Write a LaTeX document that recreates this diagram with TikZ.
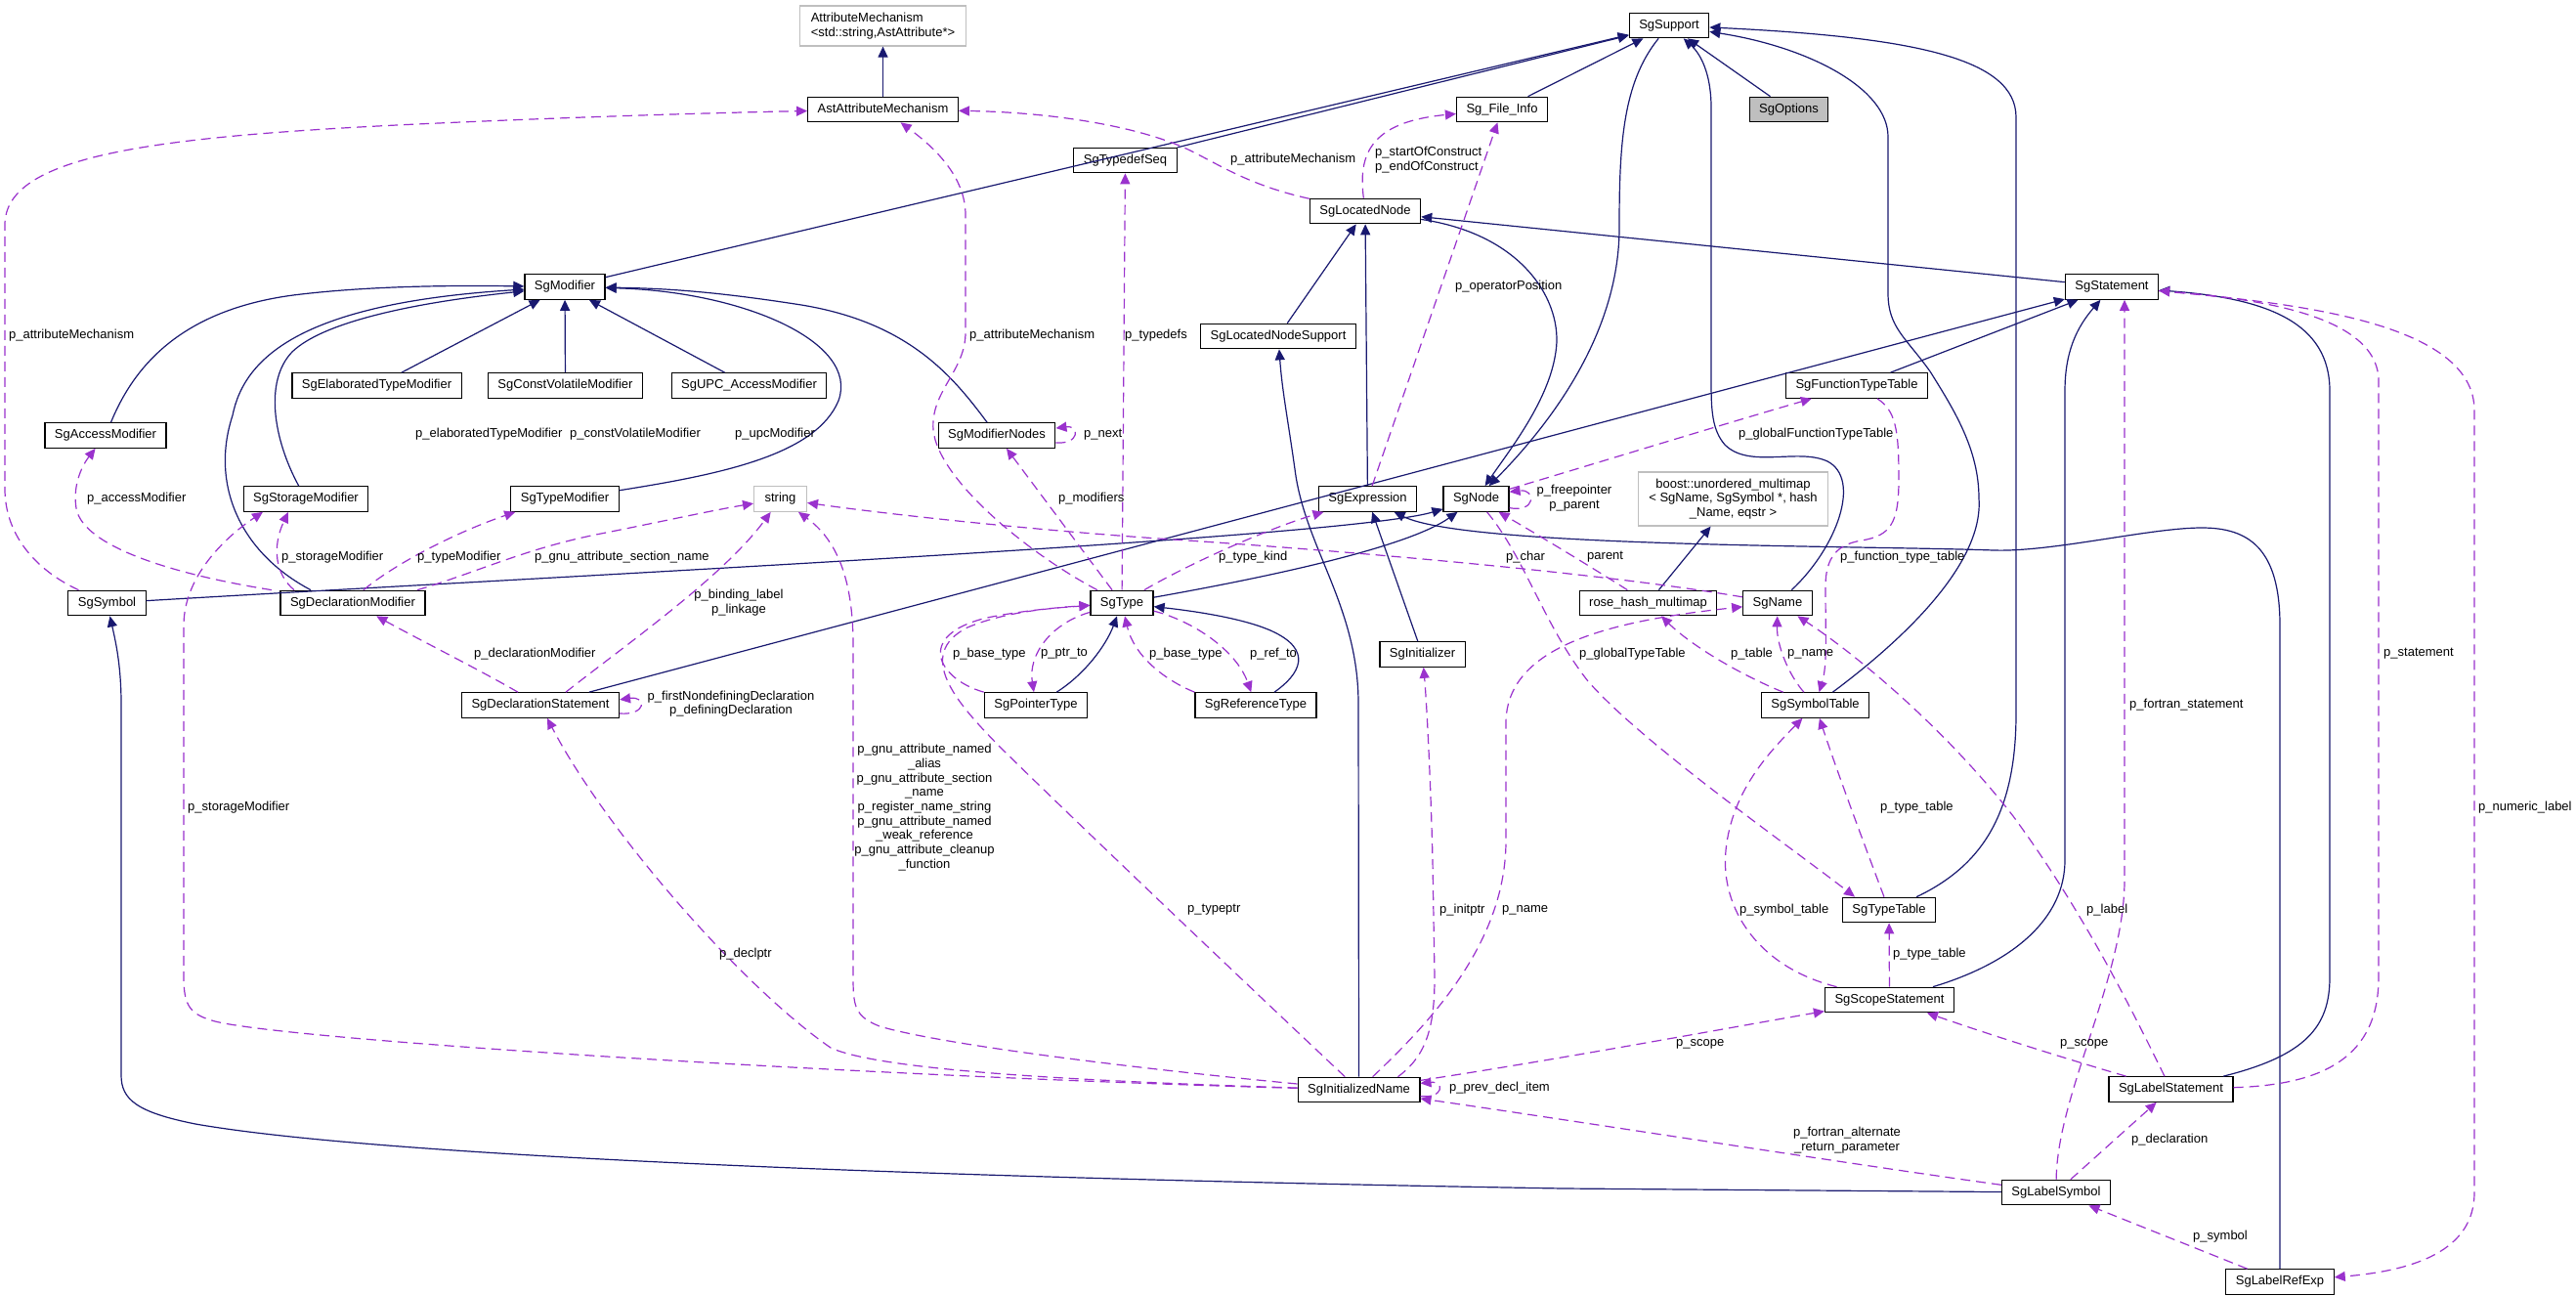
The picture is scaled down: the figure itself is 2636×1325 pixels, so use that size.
\documentclass[tikz,border=0pt]{standalone}
\usepackage{fontspec}
\setmainfont{Liberation Sans}
\usetikzlibrary{arrows.meta}

\definecolor{navy}{HTML}{191970}
\definecolor{orchid}{HTML}{9A32CD}
\definecolor{lightgrey}{HTML}{BFBFBF}
\newcommand{\graphfont}{\fontsize{13}{14.7}\selectfont}

\tikzset{
  cls/.style={draw=black, line width=1.2pt, fill=white, inner xsep=10pt, inner ysep=0pt,
    minimum height=25.5pt, text height=9.5pt, text depth=2.8pt, font=\graphfont},
  ext/.style={draw=lightgrey, line width=1.2pt, fill=white, inner xsep=11pt, inner ysep=4pt, font=\graphfont},
  isa/.style={draw=navy, line width=1.2pt, -{Triangle[length=11pt,width=10pt]}},
  uses/.style={draw=orchid, line width=1.2pt, dash pattern=on 10pt off 6pt, -{Triangle[length=11pt,width=10pt]}},
  lbl/.style={inner sep=0pt, anchor=west, font=\graphfont},
  mlbl/.style={inner sep=0pt, align=center, font=\graphfont},
}

\begin{document}
\begin{tikzpicture}[x=1pt, y=-1pt]

  \fill[white] (0,0) rectangle (2636,1325);
  \useasboundingbox (0,0) rectangle (2636,1325);

  %% classes
  \node[ext, align=left, minimum height=41pt] (AttrMech) at (903.5,26.5) {AttributeMechanism\\<std::string,AstAttribute*>};
  \node[cls] (AstAttrMech) at (903.5,112) {AstAttributeMechanism};
  \node[cls] (SgSupport) at (1708,26) {SgSupport};
  \node[cls] (SgFileInfo) at (1537,112) {Sg\_File\_Info};
  \node[cls, fill=lightgrey] (SgOptions) at (1830.5,112) {SgOptions};
  \node[cls] (SgTypedefSeq) at (1151.5,164) {SgTypedefSeq};
  \node[cls] (SgLocatedNode) at (1397,216) {SgLocatedNode};
  \node[cls] (SgModifier) at (578,293.5) {SgModifier};
  \node[cls] (SgStatement) at (2161,293.5) {SgStatement};
  \node[cls] (SgLocatedNodeSupport) at (1308,344) {SgLocatedNodeSupport};
  \node[cls] (SgElaboratedTypeModifier) at (385.5,394.5) {SgElaboratedTypeModifier};
  \node[cls] (SgConstVolatileModifier) at (578.5,394.5) {SgConstVolatileModifier};
  \node[cls] (SgUPCAccessModifier) at (766.5,394.5) {SgUPC\_AccessModifier};
  \node[cls] (SgFunctionTypeTable) at (1900,394.5) {SgFunctionTypeTable};
  \node[cls] (SgAccessModifier) at (108,445.5) {SgAccessModifier};
  \node[cls] (SgModifierNodes) at (1020,445.5) {SgModifierNodes};
  \node[cls] (SgStorageModifier) at (313,510.5) {SgStorageModifier};
  \node[cls] (SgTypeModifier) at (578,510.5) {SgTypeModifier};
  \node[ext, minimum height=25.5pt, inner ysep=0pt] (stdString) at (798.5,510.5) {string};
  \node[cls] (SgExpression) at (1399.5,510.5) {SgExpression};
  \node[cls] (SgNode) at (1510.5,510.5) {SgNode};
  \node[ext, align=center, minimum height=55pt] (boostMap) at (1773.5,510.5) {boost::unordered\_multimap\\< SgName, SgSymbol *, hash\\\_Name, eqstr >};
  \node[cls] (SgSymbol) at (109.5,617) {SgSymbol};
  \node[cls] (SgDeclarationModifier) at (361,617) {SgDeclarationModifier};
  \node[cls] (SgType) at (1148,617) {SgType};
  \node[cls] (roseHashMultimap) at (1686.5,617) {rose\_hash\_multimap};
  \node[cls] (SgName) at (1819,617) {SgName};
  \node[cls] (SgInitializer) at (1455.5,669.5) {SgInitializer};
  \node[cls] (SgDeclarationStatement) at (553,721.5) {SgDeclarationStatement};
  \node[cls] (SgPointerType) at (1060,721.5) {SgPointerType};
  \node[cls] (SgReferenceType) at (1285,721.5) {SgReferenceType};
  \node[cls] (SgSymbolTable) at (1857.5,721.5) {SgSymbolTable};
  \node[cls] (SgTypeTable) at (1933,931) {SgTypeTable};
  \node[cls] (SgScopeStatement) at (1933.5,1023) {SgScopeStatement};
  \node[cls] (SgInitializedName) at (1390.5,1115) {SgInitializedName};
  \node[cls] (SgLabelStatement) at (2221.5,1114.5) {SgLabelStatement};
  \node[cls] (SgLabelSymbol) at (2104,1220) {SgLabelSymbol};
  \node[cls] (SgLabelRefExp) at (2333,1311.5) {SgLabelRefExp};

  %% inheritance
  \draw[isa] (AstAttrMech) -- (AttrMech);
  \draw[isa] (SgModifier) -- (SgSupport);
  \draw[isa] (SgTypedefSeq) -- (SgSupport);
  \draw[isa] (SgFileInfo) -- (SgSupport);
  \draw[isa] (SgOptions) -- (SgSupport);
  \draw[isa] (SgSupport) .. controls (1660,85) and (1657,150) .. (1657,233) .. controls (1657,330) and (1600,420) .. (SgNode);
  \draw[isa] (SgName) .. controls (1880,560) and (1905,490) .. (1870,472) .. controls (1840,458) and (1790,480) .. (1765,455) .. controls (1752,440) and (1751,420) .. (1751,390) -- (1751,110) .. controls (1751,75) and (1740,55) .. (SgSupport);
  \draw[isa] (SgSymbolTable) .. controls (1940,660) and (2030,580) .. (2025,510) .. controls (2025,460) and (2000,420) .. (1975,380) .. controls (1950,345) and (1932,335) .. (1932,300) -- (1932,140) .. controls (1932,90) and (1850,48) .. (SgSupport);
  \draw[isa] (SgTypeTable) .. controls (2030,885) and (2063,830) .. (2063,730) -- (2063,120) .. controls (2063,60) and (1960,38) .. (SgSupport);
  \draw[isa] (SgLocatedNode) .. controls (1560,240) and (1600,310) .. (1592,360) .. controls (1585,410) and (1545,460) .. (SgNode);
  \draw[isa] (SgExpression) -- (SgLocatedNode);
  \draw[isa] (SgLocatedNodeSupport) -- (SgLocatedNode);
  \draw[isa] (SgStatement) -- (SgLocatedNode);
  \draw[isa] (SgDeclarationStatement) -- (SgStatement);
  \draw[isa] (SgFunctionTypeTable) -- (SgStatement);
  \draw[isa] (SgScopeStatement) .. controls (2060,985) and (2113,940) .. (2113,880) -- (2113,400) .. controls (2113,360) and (2125,335) .. (SgStatement);
  \draw[isa] (SgLabelStatement) .. controls (2360,1080) and (2384,1050) .. (2384,1000) -- (2384,400) .. controls (2384,330) and (2320,305) .. (SgStatement);
  \draw[isa] (SgLabelRefExp) -- (2333,640) .. controls (2333,560) and (2300,540) .. (2253,540) .. controls (2200,540) and (2100,565) .. (2040,563) .. controls (1900,558) and (1500,560) .. (SgExpression);
  \draw[isa] (SgInitializedName) -- (1390,720) .. controls (1390,620) and (1335,560) .. (1325,480) .. controls (1318,430) and (1312,400) .. (SgLocatedNodeSupport);
  \draw[isa] (SgInitializer) -- (SgExpression);
  \draw[isa] (SgType) .. controls (1300,590) and (1440,560) .. (SgNode);
  \draw[isa] (SgSymbol) .. controls (600,588) and (1380,550) .. (SgNode);
  \draw[isa] ([xshift=-43pt]SgDeclarationModifier.north) .. controls (245,565) and (215,495) .. (238,425) .. controls (250,365) and (310,310) .. (SgModifier);
  \draw[isa] (SgStorageModifier) .. controls (280,450) and (270,390) .. (299,360) .. controls (330,330) and (420,310) .. (SgModifier);
  \draw[isa] (SgAccessModifier) .. controls (135,380) and (180,318) .. (300,302) .. controls (380,292) and (470,292) .. (SgModifier);
  \draw[isa] (SgElaboratedTypeModifier) -- (SgModifier);
  \draw[isa] (SgConstVolatileModifier) -- (SgModifier);
  \draw[isa] (SgUPCAccessModifier) -- (SgModifier);
  \draw[isa] (SgTypeModifier) .. controls (740,485) and (835,465) .. (858,410) .. controls (880,350) and (760,298) .. (SgModifier);
  \draw[isa] (SgModifierNodes) .. controls (975,385) and (930,330) .. (820,312) .. controls (730,298) and (680,295) .. (SgModifier);
  \draw[isa] (roseHashMultimap) -- (boostMap);
  \draw[isa] (SgLabelSymbol) -- (1600,1216) .. controls (1000,1206) and (400,1185) .. (200,1150) .. controls (140,1138) and (124,1125) .. (124,1100) -- (124,720) .. controls (124,680) and (118,655) .. (SgSymbol);
  \draw[isa] (SgPointerType) .. controls (1110,690) and (1132,660) .. (SgType);
  \draw[isa] (SgReferenceType) .. controls (1330,690) and (1345,665) .. (1300,645) .. controls (1270,632) and (1220,625) .. (SgType);

  %% members
  \draw[uses] (SgSymbol) .. controls (40,585) and (5,550) .. (5,500) -- (5,230) .. controls (5,160) and (150,140) .. (427,127) .. controls (600,119) and (750,115) .. (AstAttrMech);
  \draw[uses] (SgType) .. controls (1050,565) and (960,490) .. (955,440) .. controls (952,400) and (988,380) .. (988,340) -- (988,220) .. controls (988,180) and (955,150) .. (AstAttrMech);
  \draw[uses] (SgLocatedNode) .. controls (1280,190) and (1250,170) .. (1220,155) .. controls (1170,130) and (1080,115) .. (AstAttrMech);
  \draw[uses] (SgLocatedNode) .. controls (1390,160) and (1400,125) .. (SgFileInfo);
  \draw[uses] (SgExpression) -- (SgFileInfo);
  \draw[uses] (SgType) -- (SgTypedefSeq);
  \draw[uses] (SgType) -- (SgModifierNodes);
  \draw[uses] (SgModifierNodes.-7) .. controls (1105,455) and (1105,435) .. (SgModifierNodes.7);
  \draw[uses] ([xshift=66pt]SgDeclarationModifier.north) .. controls (490,585) and (540,560) .. (620,545) .. controls (680,533) and (730,522) .. (stdString);
  \draw[uses] ([xshift=26pt]SgDeclarationStatement.north) .. controls (640,660) and (740,590) .. (stdString);
  \draw[uses] (SgName) .. controls (1650,588) and (1400,565) .. (1200,552) .. controls (1050,542) and (900,525) .. (stdString);
  \draw[uses] (SgInitializedName) .. controls (1150,1092) and (960,1068) .. (900,1050) .. controls (875,1040) and (873,1030) .. (873,1000) -- (873,660) .. controls (873,600) and (860,555) .. (stdString);
  \draw[uses] (SgType) .. controls (1220,575) and (1300,540) .. (SgExpression);
  \draw[uses] (SgPointerType.north west) .. controls (960,695) and (935,650) .. (1010,632) .. controls (1050,624) and (1090,621) .. (SgType);
  \draw[uses] (SgInitializedName) .. controls (1300,1030) and (1100,840) .. (1022,763) .. controls (980,720) and (935,670) .. (990,642) .. controls (1030,625) and (1080,622) .. (SgType);
  \draw[uses] (SgType) .. controls (1075,638) and (1052,670) .. (SgPointerType);
  \draw[uses] (SgReferenceType.north west) .. controls (1190,695) and (1160,670) .. (SgType);
  \draw[uses] (SgType) .. controls (1220,635) and (1265,665) .. (SgReferenceType);
  \draw[uses] (SgNode.-15) .. controls (1572,525) and (1572,500) .. (SgNode.12);
  \draw[uses] (roseHashMultimap) .. controls (1620,575) and (1570,545) .. (SgNode);
  \draw[uses] (SgNode) .. controls (1560,570) and (1580,640) .. (1625,697) .. controls (1680,760) and (1830,865) .. ([xshift=-35pt]SgTypeTable.north);
  \draw[uses] (SgNode) .. controls (1640,472) and (1760,435) .. (SgFunctionTypeTable);
  \draw[uses] (SgFunctionTypeTable) .. controls (1940,420) and (1943,440) .. (1943,490) .. controls (1943,535) and (1935,548) .. (1905,553) .. controls (1880,557) and (1868,570) .. (1868,600) .. controls (1868,650) and (1870,680) .. (SgSymbolTable);
  \draw[uses] (SgSymbolTable) .. controls (1830,690) and (1818,660) .. (SgName);
  \draw[uses] (SgSymbolTable) .. controls (1780,690) and (1730,660) .. (roseHashMultimap);
  \draw[uses] (SgInitializedName) .. controls (1470,1040) and (1541,960) .. (1541,860) -- (1541,740) .. controls (1541,660) and (1650,635) .. (SgName);
  \draw[uses] ([xshift=-23pt]SgInitializedName.north east) .. controls (1460,1080) and (1468,1050) .. (1468,1000) -- (1466,880) .. controls (1464,800) and (1460,720) .. (SgInitializer);
  \draw[uses] (SgInitializedName.-6) .. controls (1478,1124) and (1478,1106) .. (SgInitializedName.6);
  \draw[uses] (SgInitializedName) .. controls (1600,1083) and (1750,1055) .. (SgScopeStatement);
  \draw[uses] (SgLabelSymbol) .. controls (1900,1192) and (1600,1145) .. (SgInitializedName);
  \draw[uses] (SgInitializedName) .. controls (1100,1106) and (900,1095) .. (850,1072) .. controls (760,1010) and (620,850) .. (SgDeclarationStatement);
  \draw[uses] (SgDeclarationStatement.-6) .. controls (662,732) and (662,712) .. (SgDeclarationStatement.4.5);
  \draw[uses] (SgDeclarationStatement) .. controls (490,685) and (430,655) .. (SgDeclarationModifier);
  \draw[uses] ([xshift=-60pt]SgDeclarationModifier.north) .. controls (282,588) and (278,560) .. ([xshift=-18pt]SgStorageModifier.south);
  \draw[uses] ([xshift=11pt]SgDeclarationModifier.north) .. controls (400,580) and (460,547) .. ([xshift=5pt]SgTypeModifier.south west);
  \draw[uses] ([xshift=-83pt]SgDeclarationModifier.north) .. controls (180,588) and (85,560) .. (78,520) .. controls (74,495) and (85,475) .. (SgAccessModifier);
  \draw[uses] (SgInitializedName) .. controls (900,1102) and (300,1065) .. (220,1045) .. controls (195,1038) and (188,1030) .. (188,1000) -- (188,640) .. controls (188,590) and (230,550) .. ([xshift=-44pt]SgStorageModifier.south);
  \draw[uses] (SgScopeStatement) .. controls (1800,990) and (1760,930) .. (1766,870) .. controls (1772,810) and (1810,770) .. (SgSymbolTable);
  \draw[uses] (SgTypeTable) .. controls (1910,870) and (1880,790) .. (SgSymbolTable);
  \draw[uses] (SgScopeStatement) -- (SgTypeTable);
  \draw[uses] (SgLabelStatement) .. controls (2120,1085) and (2040,1060) .. (SgScopeStatement);
  \draw[uses] (SgLabelStatement) .. controls (2180,1030) and (2130,930) .. (2060,835) .. controls (1990,745) and (1900,670) .. (SgName);
  \draw[uses] (SgLabelSymbol) .. controls (2105,1120) and (2174,1000) .. (2174,900) -- ([xshift=13pt]SgStatement.south);
  \draw[uses] (SgLabelSymbol) -- (SgLabelStatement);
  \draw[uses] (SgLabelRefExp) -- (SgLabelSymbol);
  \draw[uses] (SgLabelStatement) .. controls (2380,1110) and (2434,1080) .. (2434,1000) -- (2434,390) .. controls (2434,320) and (2300,305) .. (SgStatement);
  \draw[uses] (SgStatement) .. controls (2350,310) and (2532,330) .. (2532,420) -- (2532,1220) .. controls (2532,1280) and (2470,1300) .. (SgLabelRefExp);

  %% member labels
  \node[lbl] (lAttrSym) at (9,343) {p\_attributeMechanism};
  \node[lbl] (lAttrType) at (992,343) {p\_attributeMechanism};
  \node[lbl] (lAttrLoc) at (1259,163) {p\_attributeMechanism};
  \node[lbl] (lTypedefs) at (1151,343) {p\_typedefs};
  \node[lbl, align=left] (lConstruct) at (1407,163.5) {p\_startOfConstruct\\p\_endOfConstruct};
  \node[lbl] (lOperator) at (1489,293) {p\_operatorPosition};
  \node[lbl] (lElab) at (425,444) {p\_elaboratedTypeModifier};
  \node[lbl] (lConstVol) at (583,444) {p\_constVolatileModifier};
  \node[lbl] (lUpc) at (752,444) {p\_upcModifier};
  \node[lbl] (lNext) at (1109,445) {p\_next};
  \node[lbl] (lGlobFunc) at (1779,444) {p\_globalFunctionTypeTable};
  \node[lbl] (lAccess) at (89,510) {p\_accessModifier};
  \node[lbl] (lModifiers) at (1083,510) {p\_modifiers};
  \node[mlbl] (lFree) at (1611,509.5) {p\_freepointer\\p\_parent};
  \node[lbl] (lStorageA) at (288,570) {p\_storageModifier};
  \node[lbl] (lTypeMod) at (427,570) {p\_typeModifier};
  \node[lbl] (lSection) at (547,570) {p\_gnu\_attribute\_section\_name};
  \node[lbl] (lTypeKind) at (1247,570) {p\_type\_kind};
  \node[lbl] (lChar) at (1541,570) {p\_char};
  \node[lbl] (lParent) at (1624,570) {parent};
  \node[lbl] (lFuncTable) at (1883,570) {p\_function\_type\_table};
  \node[mlbl] (lBinding) at (756,616.5) {p\_binding\_label\\p\_linkage};
  \node[lbl] (lDeclMod) at (485,669) {p\_declarationModifier};
  \node[lbl] (lBaseA) at (975,669) {p\_base\_type};
  \node[lbl] (lPtrTo) at (1065,669) {p\_ptr\_to};
  \node[lbl] (lBaseB) at (1176,669) {p\_base\_type};
  \node[lbl] (lRefTo) at (1279,669) {p\_ref\_to};
  \node[lbl] (lGlobType) at (1616,669) {p\_globalTypeTable};
  \node[lbl] (lTable) at (1771,669) {p\_table};
  \node[lbl] (lNameA) at (1829,669) {p\_name};
  \node[lbl] (lStatement) at (2439,669) {p\_statement};
  \node[mlbl] (lDefining) at (748,720) {p\_firstNondefiningDeclaration\\p\_definingDeclaration};
  \node[lbl] (lFortranStmt) at (2179,721) {p\_fortran\_statement};
  \node[mlbl] (lGnu) at (946,826) {p\_gnu\_attribute\_named\\\_alias\\p\_gnu\_attribute\_section\\\_name\\p\_register\_name\_string\\p\_gnu\_attribute\_named\\\_weak\_reference\\p\_gnu\_attribute\_cleanup\\\_function};
  \node[lbl] (lStorageB) at (192,826) {p\_storageModifier};
  \node[lbl] (lTypeTableA) at (1924,826) {p\_type\_table};
  \node[lbl] (lNumeric) at (2536,826) {p\_numeric\_label};
  \node[lbl] (lTypeptr) at (1215,931) {p\_typeptr};
  \node[lbl] (lInitptr) at (1473,931) {p\_initptr};
  \node[lbl] (lNameB) at (1537,931) {p\_name};
  \node[lbl] (lSymTable) at (1780,931) {p\_symbol\_table};
  \node[lbl] (lLabel) at (2135,931) {p\_label};
  \node[lbl] (lDeclptr) at (736,976) {p\_declptr};
  \node[lbl] (lTypeTableB) at (1937,976) {p\_type\_table};
  \node[lbl] (lScopeA) at (1715,1068) {p\_scope};
  \node[lbl] (lScopeB) at (2108,1068) {p\_scope};
  \node[lbl] (lPrev) at (1483,1113) {p\_prev\_decl\_item};
  \node[mlbl] (lAltReturn) at (1890,1166.5) {p\_fortran\_alternate\\\_return\_parameter};
  \node[lbl] (lDeclaration) at (2181,1166) {p\_declaration};
  \node[lbl] (lSymbol) at (2244,1265) {p\_symbol};

\end{tikzpicture}
\end{document}
